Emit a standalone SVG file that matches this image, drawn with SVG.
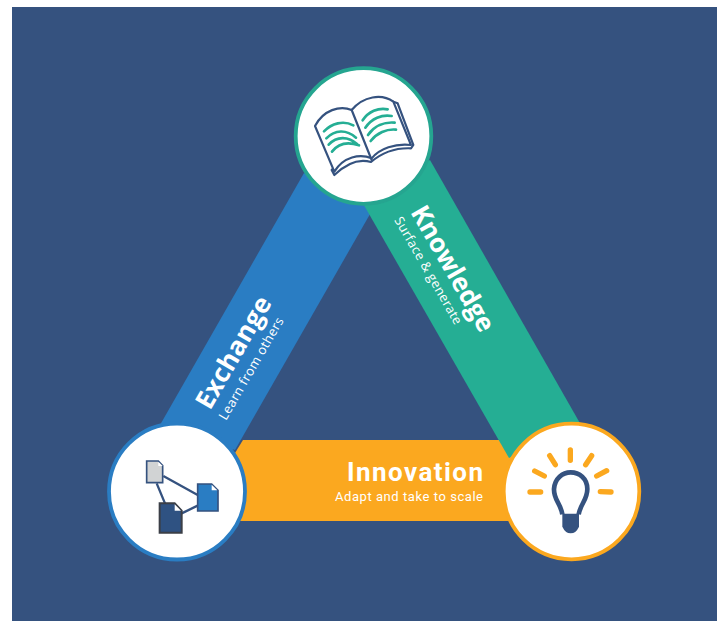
<svg xmlns="http://www.w3.org/2000/svg" width="724" height="621" viewBox="0 0 724 621">
<style>
.t{fill:#fff}
.h{font-family:"Open Sans","Liberation Sans",sans-serif;font-weight:700;font-size:26px}
.s{font-family:"Open Sans","Liberation Sans",sans-serif;font-weight:400;font-size:13px}
.d{font-family:"Roboto","Liberation Sans",sans-serif}
.ring{fill:#fff;stroke-width:3.800}
.pg{fill:#fff;stroke:#35527f;stroke-width:6.500;stroke-linejoin:round;stroke-linecap:round}
.ln{fill:none;stroke:#25ae94;stroke-width:8;stroke-linecap:round}
.ray{fill:none;stroke:#fba81f;stroke-width:16;stroke-linecap:round}
.lk{stroke:#35527f;stroke-width:7;fill:none}
</style>
<rect x="12" y="7" width="705" height="614" fill="#35527f"/>
<g id="connectors">
<polygon id="band-innovation" points="243,440 520,440 520,521 235,521 235,453" fill="#fba81f"/>
<polygon id="band-exchange" points="304,173 160,425 235,450 373.500,208" fill="#2a7dc3"/>
<polygon id="band-knowledge" points="361,200 509,458 581,425 430,160" fill="#25ae94"/>
</g>
<g id="labels">
<text class="t h" transform="translate(210,411) rotate(-60)" textLength="125">Exchange</text>
<text class="t s" transform="translate(226,421) rotate(-60)" textLength="116">Learn from others</text>
<text class="t h" transform="translate(410,212) rotate(60)" textLength="141">Knowledge</text>
<text class="t s" transform="translate(394,220) rotate(60)" textLength="122">Surface &amp; generate</text>
<text class="t d" x="347" y="481" font-size="26" font-weight="700" textLength="136">Innovation</text>
<text class="t d" x="335" y="500.500" font-size="13" font-weight="400" textLength="148">Adapt and take to scale</text>
</g>
<g id="node-knowledge">
<circle class="ring" cx="363.500" cy="136" r="67.800" stroke="#25a590"/>
<g transform="translate(285,60) scale(.33333)">
<path class="pg" d="M325,125 L338,130 L385,255 L378,265 Q310,262 258,306 Q205,290 148,345 L140,330 Z"/>
<path class="pg" d="M90,198 C115,150 165,135 200,150 C235,108 290,100 325,125 L378,255 C330,250 285,265 260,295 C225,280 175,290 148,335 Z"/>
<path class="pg" fill="none" d="M200,150 L260,300"/>
<path class="ln" d="M117,214 C140,190 175,180 205,196 M124,235 C150,208 185,208 213,233 M131,254 C155,228 190,228 217,253 M141,275 C160,250 190,245 222,256"/>
<path class="ln" d="M233,181 C250,155 280,142 308,148 M241,203 C260,175 290,163 320,168 M249,225 C268,198 298,185 329,188 M257,243 C275,220 305,206 333,209"/>
</g>
</g>
<g id="node-exchange">
<circle class="ring" cx="177" cy="491.500" r="68" stroke="#2a7dc3"/>
<g transform="translate(100,415) scale(.33333)">
<path class="lk" d="M170,205 L195,265 M190,183 L293,240 M245,295 L293,272"/>
<path d="M140,138 H175 L188,152 V203 H140 Z" fill="#d1d3d4" stroke="#35527f" stroke-width="5"/>
<path d="M175,140 V153 H188 Z" fill="#fff"/>
<path d="M293,207 H335 L354,226 V288 H293 Z" fill="#2a7dc3" stroke="#35527f" stroke-width="5"/>
<path d="M335,209 V226 H352 Z" fill="#fff"/>
<path d="M179,265 H224 L245,287 V353 H179 Z" fill="#2f5282" stroke="#3b3f47" stroke-width="6"/>
<path d="M224,268 V287 H243 Z" fill="#fff"/>
</g>
</g>
<g id="node-innovation">
<circle class="ring" cx="571.500" cy="491.500" r="67.800" stroke="#fba81f"/>
<g transform="translate(490,415) scale(.33333)">
<path class="ray" d="M120,231 H152 M134,168 L163,183 M179,122 L196,149 M241,105 V136 M305,122 L287,149 M350,167 L320,183 M331,230 L363,231"/>
<path d="M217,298 C212,265 191,255 192,222 C194,190 218,172 242,172 C268,172 292,190 292,222 C292,255 272,265 266,298" fill="#fff" stroke="#35527f" stroke-width="14"/>
<path d="M217,296 H267 V335 Q258,355 242,355 Q226,355 217,335 Z" fill="#35527f"/>
</g>
</g>
</svg>
